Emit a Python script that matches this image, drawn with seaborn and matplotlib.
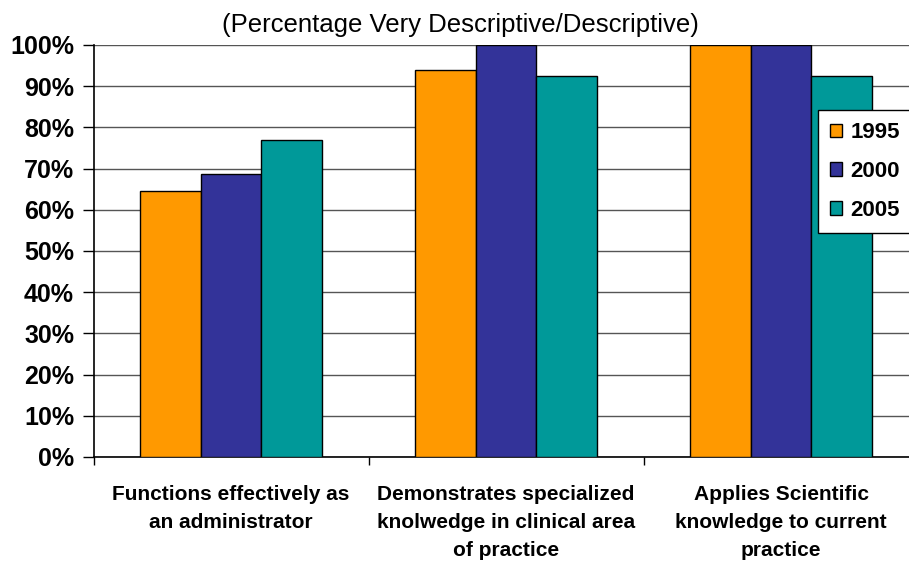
import matplotlib
matplotlib.use("Agg")
import matplotlib.pyplot as plt
import seaborn as sns
import pandas as pd

categories = [
    "Functions effectively as\nan administrator",
    "Demonstrates specialized\nknolwedge in clinical area\nof practice",
    "Applies Scientific\nknowledge to current\npractice",
]
years = ["1995", "2000", "2005"]
values_1995 = [64.6, 94.0, 100.0]
values_2000 = [68.8, 100.0, 100.0]
values_2005 = [76.9, 92.4, 92.4]
yticks = [0, 10, 20, 30, 40, 50, 60, 70, 80, 90, 100]
title = "(Percentage Very Descriptive/Descriptive)"
colors = ["#FF9900", "#333399", "#009999"]

rows = []
for yr, vals in zip(years, [values_1995, values_2000, values_2005]):
    for c, v in zip(categories, vals):
        rows.append({"category": c, "year": yr, "value": v})
df = pd.DataFrame(rows)

sns.set_theme(style="white")
plt.rcParams["font.family"] = ["Liberation Sans", "DejaVu Sans"]
plt.rcParams["text.color"] = "black"
plt.rcParams["xtick.color"] = "black"
plt.rcParams["ytick.color"] = "black"
plt.rcParams["axes.labelcolor"] = "black"

fig = plt.figure(figsize=(9.09, 5.68), dpi=100)
ax = fig.add_axes([93.5 / 909, 1 - 457 / 568, 825 / 909, 412 / 568])

sns.barplot(data=df, x="category", y="value", hue="year", order=categories,
            hue_order=years, palette=colors, saturation=1, width=0.665,
            edgecolor="black", linewidth=1.0, ax=ax, zorder=3)

ax.set_ylim(0, 100)
ax.set_xlim(-0.5, 2.5)
ax.set_yticks(yticks)
ax.set_yticklabels([f"{t}%" for t in yticks], fontsize=18, fontweight="bold",
                   color="black")
ax.yaxis.grid(True, color="#555555", linewidth=1.0, zorder=0)
ax.xaxis.grid(False)
ax.set_axisbelow(True)

ax.set_xticks([-0.5, 0.5, 1.5, 2.5])
ax.set_xticklabels([])
ax.set_xticks([0, 1, 2], minor=True)
ax.set_xticklabels(categories, minor=True, fontsize=15, fontweight="bold",
                   linespacing=1.62, color="black")
ax.tick_params(axis="x", which="major", length=6, width=1, color="black",
               direction="out", bottom=True)
ax.tick_params(axis="x", which="minor", length=0, pad=20)
ax.tick_params(axis="y", length=8, width=1, color="black", direction="out",
               left=True, pad=6)
ax.set_xlabel("")
ax.set_ylabel("")

for s in ["top", "right"]:
    ax.spines[s].set_visible(False)
for s in ["left", "bottom"]:
    ax.spines[s].set_color("black")
    ax.spines[s].set_linewidth(1.2)

fig.text(460 / 909, 1 - 32 / 568, title, fontsize=18.5, ha="center",
         va="baseline", color="black")

handles, labels = ax.get_legend_handles_labels()
if ax.legend_:
    ax.legend_.remove()
leg = fig.legend(handles, labels, loc="upper left",
                 bbox_to_anchor=(818 / 909, 1 - 110 / 568),
                 bbox_transform=fig.transFigure, borderaxespad=0,
                 frameon=True, fancybox=False, edgecolor="black",
                 facecolor="white", framealpha=1,
                 prop={"size": 16, "weight": "bold"},
                 handlelength=0.55, handleheight=0.55, handletextpad=0.35,
                 labelspacing=0.8, borderpad=0.55)
leg.get_frame().set_linewidth(1.0)
leg.set_zorder(10)
for t in leg.get_texts():
    t.set_color("black")

fig.savefig("out.png", dpi=100, facecolor="white")
